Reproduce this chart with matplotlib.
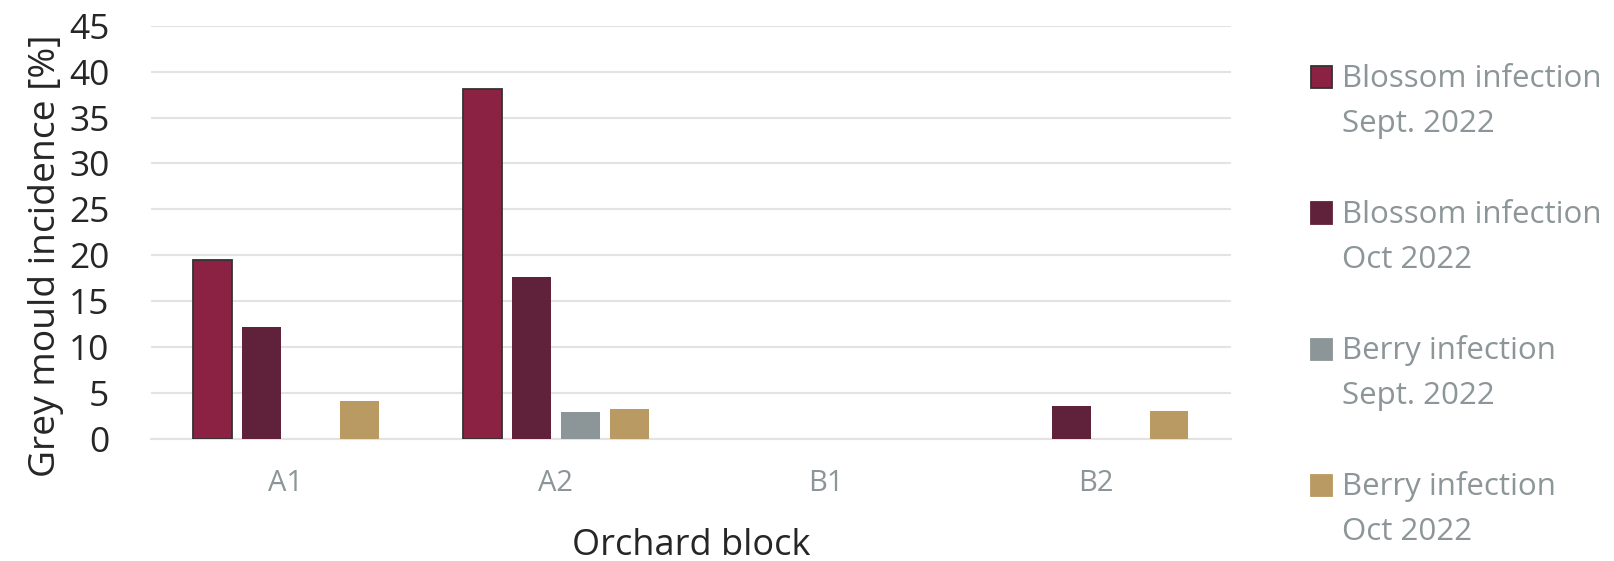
import matplotlib
matplotlib.use("Agg")
import matplotlib.pyplot as plt
from matplotlib.patches import Rectangle
import numpy as np

plt.rcParams['font.family'] = ['Open Sans', 'DejaVu Sans']

# incidence per orchard block, one list per assessment
blocks = ["A1", "A2", "B1", "B2"]
blossom_sept = [19.5, 38.1, 0, 0]
blossom_oct = [12.2, 17.6, 0, 3.6]
berry_sept = [0, 2.9, 0, 0]
berry_oct = [4.1, 3.2, 0, 3.0]

series = [blossom_sept, blossom_oct, berry_sept, berry_oct]
names = ["Blossom infection\nSept. 2022", "Blossom infection\nOct 2022",
         "Berry infection\nSept. 2022", "Berry infection\nOct 2022"]
colors = ["#8b2244", "#5f223a", "#8c9597", "#b89a62"]

fig = plt.figure(figsize=(16.15, 5.61), dpi=100)
ax = fig.add_axes([0.0935, 0.218, 0.6685, 0.736])

x = np.arange(len(blocks))
step = 0.181
width = 0.144
for i, (vals, col) in enumerate(zip(series, colors)):
    pos = x + (i - 1.5) * step
    if i == 0:
        # first series carries a dark outline, but not on empty bars
        edges = ["#333333" if v > 0 else "none" for v in vals]
        ax.bar(pos, vals, width, color=col, edgecolor=edges, linewidth=1.3, zorder=3)
    else:
        ax.bar(pos, vals, width, color=col, linewidth=0, zorder=3)

ax.set_xlim(-0.5, len(blocks) - 0.5)
ax.set_ylim(0, 45)
ax.set_yticks(range(0, 50, 5))
ax.set_xticks(x)
ax.set_xticklabels(blocks)
ax.grid(axis="y", color="#e3e3e3", linewidth=1.5, zorder=0)
for s in ["top", "right", "left"]:
    ax.spines[s].set_visible(False)
ax.spines["bottom"].set_color("#e3e3e3")
ax.spines["bottom"].set_linewidth(1.5)
ax.tick_params(axis="both", length=0)
ax.tick_params(axis="y", labelsize=25.5, labelcolor="#262626", pad=30)
ax.tick_params(axis="x", labelsize=21, labelcolor="#8c9597", pad=22)
ax.set_ylabel("Grey mould incidence [%]", fontsize=26.8, color="#262626")
ax.yaxis.set_label_coords(-0.081, 0.444)
ax.set_xlabel("Orchard block", fontsize=26, color="#262626", va="baseline")
ax.xaxis.set_label_coords(0.5, -0.282)

# legend drawn by hand so the swatch sits level with the first text line
W, H = fig.get_size_inches() * fig.dpi
for i, (name, col) in enumerate(zip(names, colors)):
    top = 66.5 + i * 136
    ec = "#333333" if i == 0 else col
    fig.patches.append(Rectangle((1311 / W, 1 - (top + 21) / H), 21 / W, 21 / H,
                                 transform=fig.transFigure, facecolor=col,
                                 edgecolor=ec, linewidth=1.3))
    for j, line in enumerate(name.split("\n")):
        fig.text(1342 / W, 1 - (top + 20.5 + j * 45.3) / H, line, fontsize=22.5,
                 color="#8c9597", va="baseline", ha="left")

fig.savefig("out.png", dpi=100)
